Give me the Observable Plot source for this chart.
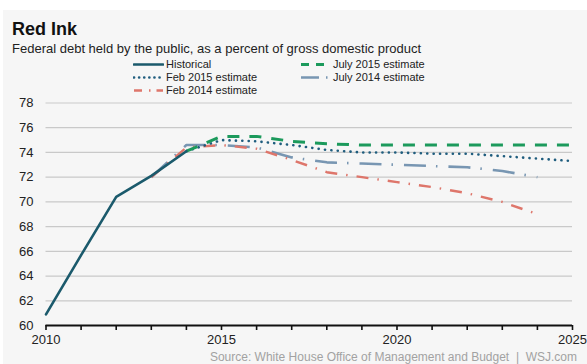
<!DOCTYPE html>
<html>
<head>
<meta charset="utf-8">
<script src="https://cdn.jsdelivr.net/npm/d3@7"></script>
<script src="https://cdn.jsdelivr.net/npm/@observablehq/plot@0.6"></script>
<style>
  html, body { margin: 0; padding: 0; background: #ffffff; }
  body { width: 587px; height: 364px; position: relative; overflow: hidden;
         font-family: "Liberation Sans", Arial, Helvetica, sans-serif; }
  #bg { position: absolute; left: 3px; top: 10px; right: 0; bottom: 0; background: #f6f6f6; }
  #chart { position: absolute; left: 0; top: 0; }
  .title { position: absolute; left: 12px; top: 18px; font-size: 18px; font-weight: bold; color: #111; line-height: 22px; }
  .subtitle { position: absolute; left: 12px; top: 41px; font-size: 13px; color: #222; line-height: 16px; }
  .leg { position: absolute; font-size: 11px; color: #222; line-height: 13px; display: flex; align-items: center; white-space: nowrap; }
  .leg svg { margin-right: 2px; }
  .source { position: absolute; right: 10px; top: 350px; font-size: 12px; color: #a2a2a2; line-height: 14px; white-space: pre; }
</style>
</head>
<body>
<div id="bg"></div>
<div id="chart"></div>
<div class="title" id="title"></div>
<div class="subtitle" id="subtitle"></div>
<div id="legend"></div>
<div class="source" id="source"></div>
<script>
// ---- Data ----
const titleText = "Red Ink";
const subtitleText = "Federal debt held by the public, as a percent of gross domestic product";
const sourceText = "Source: White House Office of Management and Budget  |  WSJ.com";

const historicalYears = [2010, 2011, 2012, 2013, 2014];
const historicalValues = [60.9, 65.7, 70.4, 72.1, 74.1];

const july2015Years = [2014, 2015, 2016, 2017, 2018, 2019, 2020, 2021, 2022, 2023, 2024, 2025];
const july2015Values = [74.1, 75.3, 75.3, 74.9, 74.7, 74.6, 74.6, 74.6, 74.6, 74.6, 74.6, 74.6];

const feb2015Years = [2014, 2015, 2016, 2017, 2018, 2019, 2020, 2021, 2022, 2023, 2024, 2025];
const feb2015Values = [74.1, 75.0, 74.9, 74.6, 74.2, 74.0, 74.0, 73.9, 73.9, 73.7, 73.5, 73.3];

const july2014Years = [2013, 2014, 2015, 2016, 2017, 2018, 2019, 2020, 2021, 2022, 2023, 2024];
const july2014Values = [72.0, 74.6, 74.6, 74.4, 73.6, 73.2, 73.1, 73.0, 72.9, 72.8, 72.5, 72.0];

const feb2014Years = [2013, 2014, 2015, 2016, 2017, 2018, 2019, 2020, 2021, 2022, 2023, 2024];
const feb2014Values = [72.0, 74.4, 74.6, 74.3, 73.4, 72.4, 72.0, 71.6, 71.2, 70.7, 70.0, 69.0];

const seriesNames = ["Historical", "Feb 2015 estimate", "Feb 2014 estimate", "July 2015 estimate", "July 2014 estimate"];

const xTickYears = [2010, 2011, 2012, 2013, 2014, 2015, 2016, 2017, 2018, 2019, 2020, 2021, 2022, 2023, 2024, 2025];
const xLabelYears = [2010, 2015, 2020, 2025];
const yTicks = [60, 62, 64, 66, 68, 70, 72, 74, 76, 78];

// ---- Styles ----
const styles = {
  "Historical":         {stroke: "#1b5a6c", strokeWidth: 2.6, dash: null, cap: "round"},
  "July 2015 estimate": {stroke: "#1c9a5c", strokeWidth: 3,   dash: "12,10", cap: "butt"},
  "Feb 2015 estimate":  {stroke: "#1f5d7e", strokeWidth: 2.6, dash: "0.1,6.3", cap: "round"},
  "July 2014 estimate": {stroke: "#7896b2", strokeWidth: 2.6, dash: "22,10,1.5,11", cap: "butt"},
  "Feb 2014 estimate":  {stroke: "#de766b", strokeWidth: 2.4, dash: "12,9,1.5,9", cap: "butt"}
};

const toRows = (years, vals) => years.map((x, i) => ({x, y: vals[i]}));

function lineMark(name, years, vals) {
  const s = styles[name];
  const o = {x: "x", y: "y", stroke: s.stroke, strokeWidth: s.strokeWidth, strokeLinecap: s.cap, strokeLinejoin: "round"};
  if (s.dash) o.strokeDasharray = s.dash;
  return Plot.line(toRows(years, vals), o);
}

const plot = Plot.plot({
  width: 587,
  height: 364,
  marginLeft: 45.5,
  marginRight: 15,
  marginTop: 102.5,
  marginBottom: 39,
  style: {background: "transparent", fontFamily: "\"Liberation Sans\", Arial, Helvetica, sans-serif", color: "#222"},
  x: {domain: [2010, 2025]},
  y: {domain: [60, 78]},
  marks: [
    Plot.gridY(yTicks.filter(d => d > 60), {stroke: "#c9c9c9", strokeOpacity: 1, strokeWidth: 1.2}),
    Plot.axisY({ticks: yTicks, tickSize: 0, tickPadding: 12.5, fontSize: 13, label: null, tickFormat: d => String(d)}),
    Plot.axisX({ticks: xTickYears, tickSize: 5, tickFormat: () => "", stroke: "#111", strokeWidth: 1.6, label: null}),
    Plot.axisX({ticks: xLabelYears, tickSize: 0, tickPadding: 9, fontSize: 13, label: null, tickFormat: d => String(d)}),
    Plot.ruleY([60], {stroke: "#111", strokeWidth: 2}),
    lineMark("July 2014 estimate", july2014Years, july2014Values),
    lineMark("Feb 2014 estimate", feb2014Years, feb2014Values),
    lineMark("Feb 2015 estimate", feb2015Years, feb2015Values),
    lineMark("July 2015 estimate", july2015Years, july2015Values),
    lineMark("Historical", historicalYears, historicalValues)
  ]
});
document.getElementById("chart").appendChild(plot);

document.getElementById("title").textContent = titleText;
document.getElementById("subtitle").textContent = subtitleText;
document.getElementById("source").textContent = sourceText;

// ---- Legend ----
const legendPos = {
  "Historical":         {left: 133, top: 58},
  "Feb 2015 estimate":  {left: 133, top: 71},
  "Feb 2014 estimate":  {left: 133, top: 84},
  "July 2015 estimate": {left: 300, top: 58},
  "July 2014 estimate": {left: 300, top: 71}
};
const legend = document.getElementById("legend");
seriesNames.forEach(name => {
  const s = styles[name];
  const p = legendPos[name];
  const div = document.createElement("div");
  div.className = "leg";
  div.style.left = p.left + "px";
  div.style.top = p.top + "px";
  const ns = "http://www.w3.org/2000/svg";
  const svg = document.createElementNS(ns, "svg");
  svg.setAttribute("width", 31);
  svg.setAttribute("height", 13);
  const ln = document.createElementNS(ns, "line");
  ln.setAttribute("x1", 1); ln.setAttribute("x2", 30);
  ln.setAttribute("y1", 6.5); ln.setAttribute("y2", 6.5);
  ln.setAttribute("stroke", s.stroke);
  ln.setAttribute("stroke-width", s.strokeWidth);
  ln.setAttribute("stroke-linecap", s.cap);
  if (name === "July 2015 estimate") ln.setAttribute("stroke-dasharray", "8,7");
  else if (name === "July 2014 estimate") ln.setAttribute("stroke-dasharray", "18,7,1.5,10");
  else if (name === "Feb 2014 estimate") ln.setAttribute("stroke-dasharray", "8,7,1.5,6");
  else if (s.dash) ln.setAttribute("stroke-dasharray", "0.1,5");
  svg.appendChild(ln);
  div.appendChild(svg);
  const span = document.createElement("span");
  span.textContent = name;
  div.appendChild(span);
  legend.appendChild(div);
});
</script>
</body>
</html>
